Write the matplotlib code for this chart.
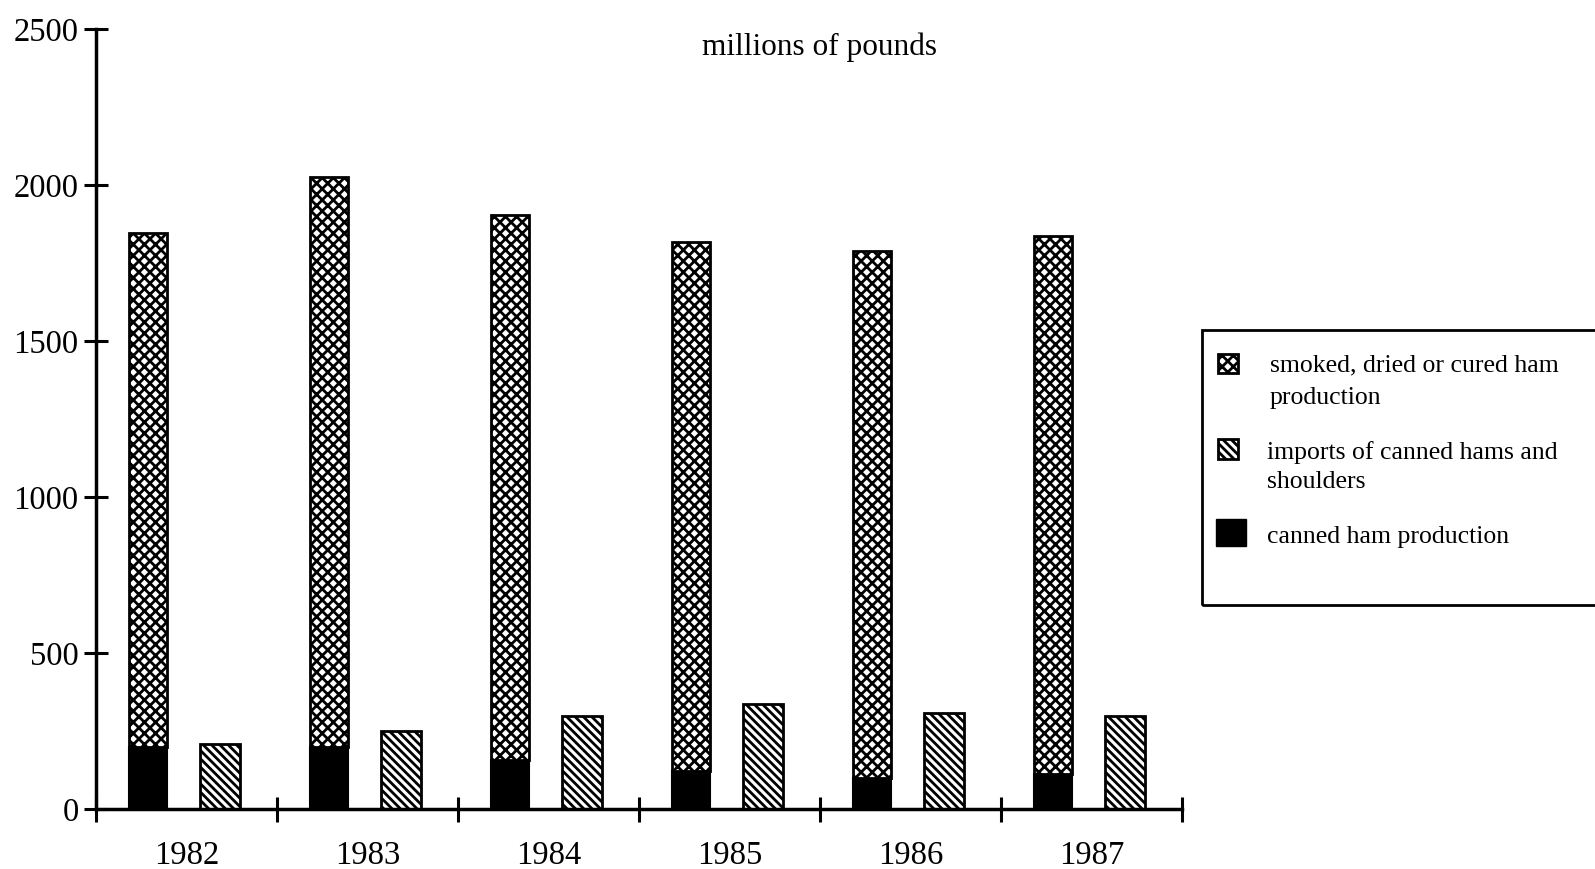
import matplotlib.pyplot as plt
from matplotlib.patches import Rectangle
import numpy as np

plt.rcParams['font.family'] = ['Liberation Serif', 'DejaVu Serif']
plt.rcParams['hatch.linewidth'] = 2.0

# data (millions of pounds)
years = ['1982', '1983', '1984', '1985', '1986', '1987']
canned = [200, 200, 158, 123, 98, 112]
smoked = [1645, 1825, 1745, 1695, 1690, 1723]
imports = [207, 250, 297, 338, 308, 298]

W, H = 1595, 869

def fx(px):
    return px / W

def fy(py):
    return 1 - py / H

fig = plt.figure(figsize=(W / 100, H / 100), dpi=100)
ax = fig.add_axes([fx(96), fy(809), (1182 - 96) / W, (809 - 29) / H])

x = np.arange(len(years))
ax.bar(x + 0.29, canned, width=0.21, color='black', edgecolor='black', linewidth=1.5)
ax.bar(x + 0.29, smoked, width=0.21, bottom=canned, color='white',
       edgecolor='black', hatch='xxx', linewidth=2)
ax.bar(x + 0.685, imports, width=0.225, color='white', edgecolor='black',
       hatch='\\\\\\\\', linewidth=2)

ax.set_xlim(0, len(years))
ax.set_ylim(0, 2500)
ax.set_yticks([0, 500, 1000, 1500, 2000, 2500])
ax.set_xticks(np.arange(len(years) + 1))
ax.set_xticklabels([])
ax.set_xticks(x + 0.5, minor=True)
ax.set_xticklabels(years, minor=True)

for s in ['top', 'right']:
    ax.spines[s].set_visible(False)
for s in ['left', 'bottom']:
    ax.spines[s].set_linewidth(2.5)

ax.tick_params(axis='y', direction='inout', length=17, width=2.2, labelsize=23.5, pad=4)
ax.tick_params(axis='x', which='major', direction='inout', length=18, width=2.2)
ax.tick_params(axis='x', which='minor', length=0, labelsize=23.5, pad=23)

fig.text(fx(820), fy(47), 'millions of pounds', fontsize=22.5, ha='center', va='center')

# legend box
fig.patches.append(Rectangle((fx(1202), fy(605)), fx(1600) - fx(1202), fy(330) - fy(605),
                             transform=fig.transFigure, facecolor='none',
                             edgecolor='black', linewidth=2, clip_on=False))
fig.patches.append(Rectangle((fx(1218), fy(373)), 20 / W, 19 / H, transform=fig.transFigure,
                             facecolor='white', edgecolor='black', hatch='xxx', linewidth=2))
fig.patches.append(Rectangle((fx(1218), fy(459)), 20 / W, 20 / H, transform=fig.transFigure,
                             facecolor='white', edgecolor='black', hatch='\\\\\\\\', linewidth=2))
fig.patches.append(Rectangle((fx(1216), fy(546)), 30 / W, 27 / H, transform=fig.transFigure,
                             facecolor='black', edgecolor='black', linewidth=1))
fig.text(fx(1270), fy(382), 'smoked, dried or cured ham\nproduction', fontsize=18.5,
         va='center', linespacing=1.62)
fig.text(fx(1267), fy(467), 'imports of canned hams and\nshoulders', fontsize=18.5,
         va='center', linespacing=1.44)
fig.text(fx(1267), fy(537), 'canned ham production', fontsize=18.5, va='center')

fig.savefig('out.png', dpi=100)
